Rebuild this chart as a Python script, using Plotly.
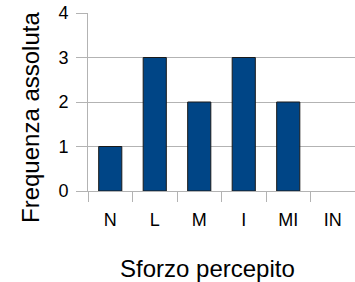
import plotly.graph_objects as go

categories = ["N", "L", "M", "I", "MI", "IN"]
values = [1, 3, 2, 3, 2, 0]
y_ticks = [0, 1, 2, 3, 4]

GRID = "#b3b3b3"
FONT = "Liberation Sans, Arial, sans-serif"

fig = go.Figure(
    go.Bar(
        x=categories,
        y=[v if v else None for v in values],
        width=0.52,
        marker=dict(color="#004586", line=dict(color="#1a1a1a", width=1)),
        hoverinfo="skip",
    )
)

fig.update_layout(
    width=355,
    height=282,
    margin=dict(l=88, r=0, t=13, b=91, autoexpand=False),
    paper_bgcolor="white",
    plot_bgcolor="white",
    showlegend=False,
    font=dict(family=FONT, color="#000000"),
    xaxis=dict(
        type="category",
        range=[-0.5, 5.5],
        tickson="boundaries",
        ticks="outside",
        ticklen=10,
        tickcolor=GRID,
        showline=True,
        linecolor=GRID,
        linewidth=1,
        showgrid=False,
        automargin=False,
        ticklabelstandoff=12,
        tickfont=dict(size=18, family=FONT),
        fixedrange=True,
    ),
    yaxis=dict(
        range=[0, 4],
        tickvals=y_ticks,
        ticks="outside",
        ticklen=11,
        tickcolor=GRID,
        showline=True,
        linecolor=GRID,
        linewidth=1,
        showgrid=True,
        gridcolor=GRID,
        zeroline=False,
        automargin=False,
        ticklabelstandoff=4,
        tickfont=dict(size=18, family=FONT),
        fixedrange=True,
    ),
    annotations=[
        dict(
            text="Sforzo percepito",
            xref="paper", yref="paper",
            x=(207.5 - 88) / 267, y=-(268 - 191) / 178,
            xanchor="center", yanchor="middle",
            showarrow=False,
            font=dict(size=24, family=FONT),
        ),
        dict(
            text="Frequenza assoluta",
            xref="paper", yref="paper",
            x=-(88 - 30) / 267, y=(191 - 118) / 178,
            xanchor="center", yanchor="middle",
            textangle=-90,
            showarrow=False,
            font=dict(size=24, family=FONT),
        ),
    ],
)

fig.write_html(
    "out.html",
    config={"displayModeBar": False, "staticPlot": True},
    post_script="document.body.style.margin='0';document.body.style.overflow='hidden';",
)
